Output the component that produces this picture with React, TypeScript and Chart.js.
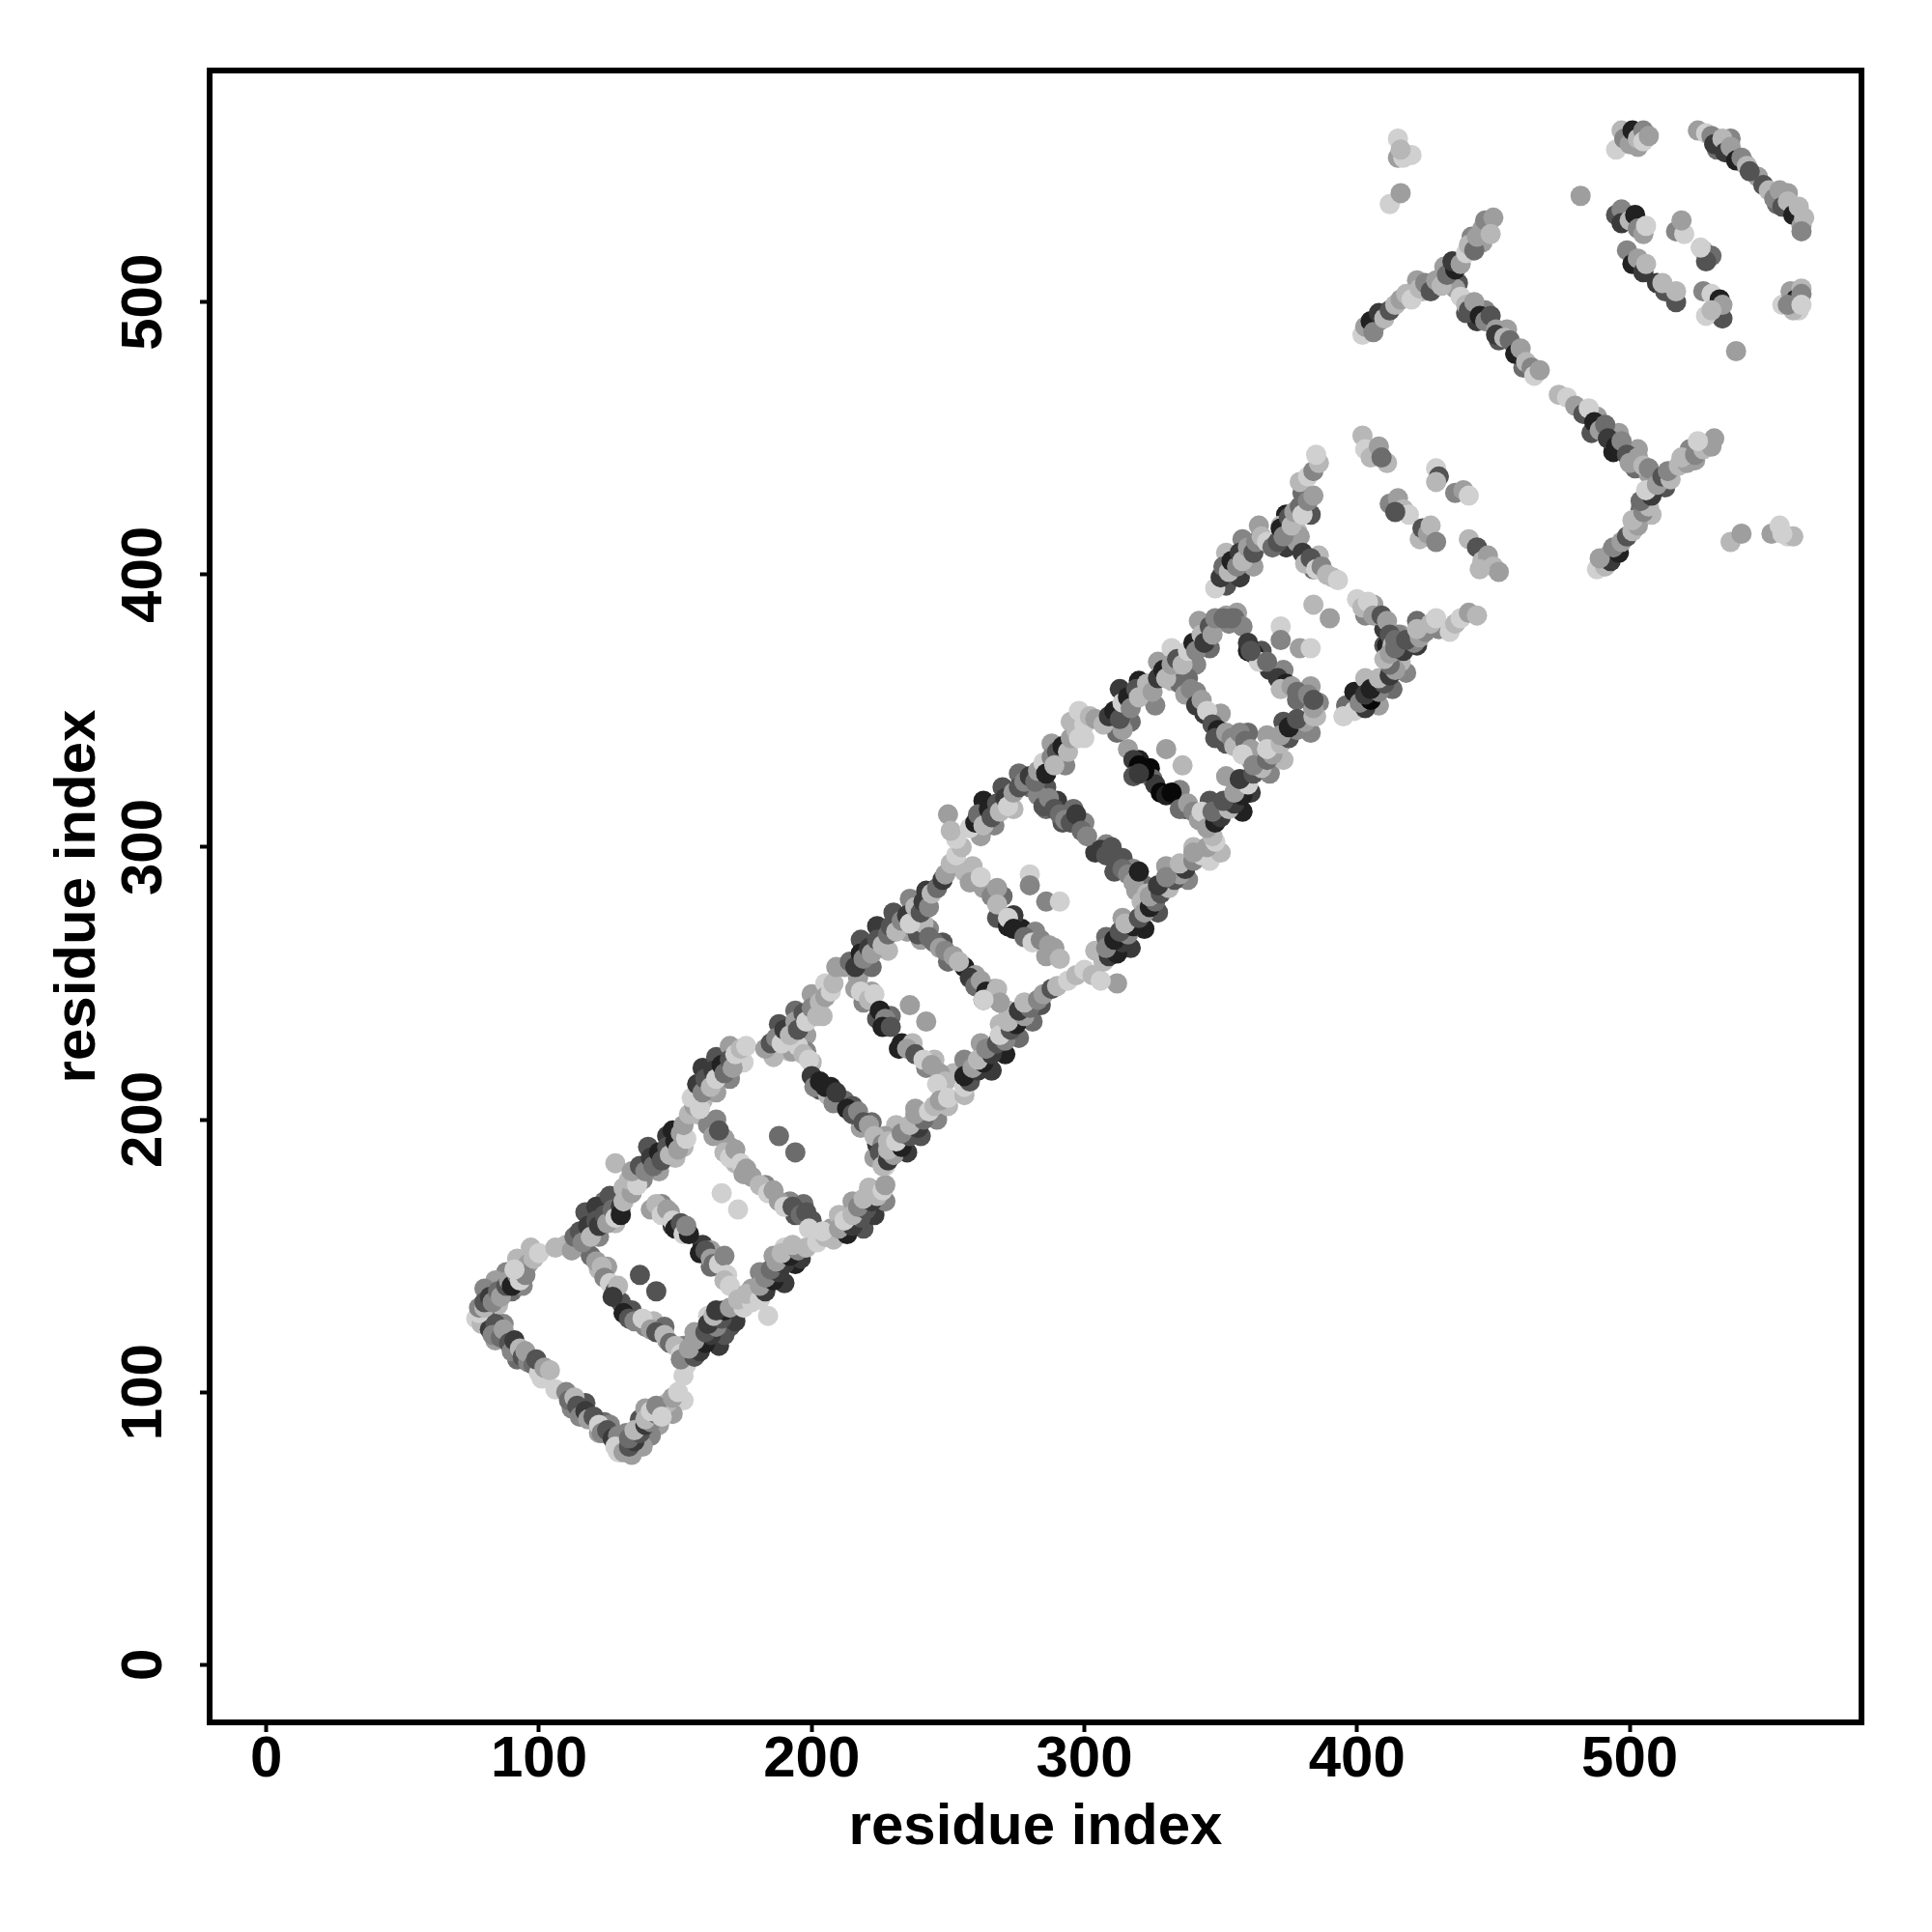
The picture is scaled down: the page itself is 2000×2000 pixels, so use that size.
import React, { useEffect, useRef } from "react";
import { Chart, registerables } from "chart.js";

Chart.register(...registerables);

const AXIS_TITLE = "residue index";
const TICK_VALUES = [0, 100, 200, 300, 400, 500];

// Each row: residue i, residue j, contact level in tenths of grey (0 black ... 8 light)
const upperBand: number[][] = [
  [78,129,8],[78,131,5],[80,131,7],[80,133,3],[82,135,2],[83,133,5],[85,137,4],[86,135,6],[88,139,3],[89,141,6],[90,139,1],[92,143,5],[93,141,8],[94,145,7],[96,147,6],[95,143,5],[98,149,7],[91,145,8],[100,151,8],
  [106,153,7],[110,154,7],[112,152,6],[113,157,4],[115,159,3],[116,155,5],[118,161,2],[119,157,7],[121,163,3],[122,161,2],[124,165,3],[125,162,6],[127,167,4],[128,164,8],[130,168,2],[130,165,1],[131,170,7],
  [131,175,7],[134,173,6],[133,178,7],[136,176,8],[128,184,7],[134,181,6],
  [137,183,3],[139,181,5],[141,186,2],[142,183,4],[144,188,1],[145,185,3],[147,190,3],[148,187,7],[150,192,1],[151,189,6],[152,195,6],[154,193,8],[153,198,6],
  [155,202,7],[157,205,6],[156,208,8],[159,204,8],
  [158,213,2],[160,210,5],[161,215,3],[163,212,7],[164,218,2],[165,215,8],[167,220,1],[168,217,4],[170,222,3],[171,219,6],[172,224,8],[174,226,7],[176,227,8],
  [183,226,6],[185,228,3],[187,230,5],[189,228,8],[190,233,2],[192,231,7],[194,236,6],[195,233,3],[197,239,3],[198,236,8],[200,241,5],[202,238,7],[203,243,7],[205,245,6],[207,247,8],[208,250,7],[209,256,6],[212,256,6],
  [214,258,4],[216,256,2],[218,261,1],[219,259,5],[221,263,2],[222,261,6],[224,266,3],[226,264,7],[228,268,4],[229,271,3],[231,269,7],[233,273,5],[235,275,2],[236,272,8],[238,278,7],[240,276,3],[241,280,2],[243,278,5],[244,283,7],[246,285,4],
  [248,288,2],[249,290,6],[251,294,7],[253,297,8],[255,300,7],[253,303,8],[250,312,6],[251,306,7],
  [258,307,8],[260,309,1],[261,312,4],[263,308,7],[265,314,1],[266,311,3],[268,316,3],[269,313,7],[271,318,2],[272,315,8],[274,320,6],[276,322,3],[278,324,5],[280,326,2],
  [282,324,4],[283,328,6],[285,331,8],[286,327,1],[288,333,5],[290,335,3],[289,330,7],[292,337,1],[294,335,7],[295,340,6],[297,343,7],[298,340,8],[300,345,8],[302,348,7],[304,347,6],
  [307,345,7],[309,348,2],[311,350,1],[313,347,3],[314,353,8],[316,355,1],[317,351,5],[319,358,3],[320,355,7],[323,360,7],[325,357,6],[327,362,2],[329,365,1],[330,362,7],[332,367,6],[334,369,3],[336,367,7],
  [338,372,8],[340,375,1],[341,372,5],[343,378,7],[344,375,2],[346,381,3],[347,378,6],[348,384,5],[351,384,4],[354,384,4],[348,395,8],
  [350,399,2],[351,403,4],[353,401,7],[354,405,1],[356,403,5],[357,408,2],[358,405,7],[360,410,6],[362,408,3],[363,412,5],[365,414,7],[367,412,8],
  [369,410,4],[371,412,3],[372,417,1],[373,414,5],[375,421,3],[376,418,7],[377,423,6],[379,425,4],[380,422,8],[382,427,5],[384,429,6],[382,436,8],[384,438,5],[386,441,7],[385,444,8],
];

const lowerBand: number[][] = [
  [129,78,8],[131,78,6],[133,80,3],[135,82,2],[133,83,4],[137,85,3],[135,86,7],[139,88,2],[141,89,5],[139,90,7],[143,92,4],[141,93,8],[145,94,6],[147,96,7],[143,95,5],[149,98,6],[145,91,8],[151,100,8],
  [153,106,8],[154,110,8],[152,112,5],[157,113,3],[159,115,2],[155,116,6],[161,118,1],[157,119,6],[163,121,2],[161,122,3],[165,124,5],[162,125,2],[167,127,3],[164,128,7],[168,130,1],[165,130,2],[170,131,6],
  [175,131,8],[173,134,7],[178,133,8],[176,136,7],[184,128,8],[181,134,8],
  [183,137,2],[181,139,6],[186,141,1],[183,142,5],[188,144,2],[185,145,4],[190,147,2],[187,148,6],[192,150,1],[189,151,7],[195,152,5],[193,154,7],[198,153,7],
  [202,155,8],[205,157,7],[208,156,7],[204,159,8],
  [213,158,1],[210,160,6],[215,161,2],[212,163,8],[218,164,3],[215,165,7],[220,167,3],[217,168,5],[222,170,2],[219,171,7],[224,172,7],[226,174,8],[227,176,6],
  [226,183,7],[228,185,2],[230,187,6],[228,189,7],[233,190,1],[231,192,8],[236,194,3],[233,195,5],[239,197,2],[236,198,7],[241,200,4],[238,202,6],[243,203,8],[245,205,7],[247,207,6],[250,208,8],[256,209,7],[256,212,8],
  [258,214,3],[256,216,1],[261,218,2],[259,219,6],[263,221,1],[261,222,7],[266,224,2],[264,226,5],[268,228,3],[271,229,5],[269,231,8],[273,233,3],[275,235,1],[272,236,7],[278,238,6],[276,240,2],[280,241,4],[278,243,7],[283,244,5],[285,246,6],
  [288,248,3],[290,249,7],[294,251,8],[297,253,7],[300,255,8],[303,253,7],[312,250,6],[306,251,8],
  [307,258,7],[309,260,2],[312,261,1],[308,263,5],[314,265,2],[311,266,1],[316,268,5],[313,269,3],[318,271,1],[315,272,7],[320,274,3],[322,276,6],[324,278,1],[326,280,4],
  [324,282,6],[328,283,3],[331,285,7],[327,286,2],[333,288,3],[335,290,6],[330,289,5],[337,292,2],[335,294,7],[340,295,5],[343,297,8],[340,298,6],[345,300,6],[348,302,8],[347,304,7],
  [345,307,6],[348,309,1],[350,311,2],[347,313,4],[353,314,7],[355,316,2],[351,317,3],[358,319,1],[355,320,6],[360,323,8],[357,325,2],[362,327,3],[365,329,7],[362,330,5],[367,332,4],[369,334,6],[367,336,8],
  [372,338,7],[375,340,3],[372,341,6],[378,343,5],[375,344,1],[381,346,6],[378,347,3],[384,348,7],[384,351,6],[384,354,3],[395,348,8],
  [399,350,8],[403,351,2],[401,353,5],[405,354,0],[403,356,2],[408,357,5],[405,358,1],[410,360,3],[408,362,7],[412,363,2],[414,365,6],[412,367,4],
  [410,369,7],[412,371,6],[417,372,2],[414,373,4],[421,375,5],[418,376,3],[423,377,6],[425,379,5],[422,380,7],[427,382,7],[429,384,8],[436,382,7],[438,384,8],[441,386,6],[444,385,7],
];

const rungsLow: number[][] = [
  [77,127,8],[79,125,7],[80,129,4],[82,123,2],[84,125,3],[83,121,5],[86,120,4],[87,123,6],[89,118,3],[90,115,5],[91,119,2],[93,116,7],[94,113,3],[96,111,5],[95,115,6],[98,110,4],[100,107,8],[99,112,3],[101,105,8],[102,109,6],[104,108,7],
  [106,101,8],[110,100,5],[111,97,4],[113,98,7],[114,95,3],[115,91,5],[117,93,2],[118,90,6],[120,91,3],[122,88,8],[123,85,5],[125,86,3],[127,83,2],[129,84,5],[128,80,8],[130,78,7],[132,78,8],[134,77,6],
  [119,150,4],[121,148,6],[123,146,7],[124,142,5],[126,140,8],[128,137,3],[129,139,7],[127,135,2],[131,129,1],[133,127,3],[135,126,5],[138,127,8],[141,123,6],[143,122,3],[146,121,7],[148,118,4],[150,117,7],[152,114,8],
  [137,143,3],[143,137,3],
  [141,167,6],[143,169,7],[145,165,8],[147,167,6],[149,163,8],[150,160,1],[152,162,3],[153,158,8],[155,158,1],[154,161,5],[159,151,1],[161,152,3],[163,149,6],[164,147,4],[166,147,8],[168,150,5],[169,143,8],[168,141,7],[170,139,8],
  [158,202,7],[162,198,5],[164,194,6],[166,196,3],[168,188,7],[170,186,8],[172,189,6],[174,184,8],[176,182,6],[175,180,6],[181,176,7],[184,173,8],[186,174,6],[188,170,6],[190,168,8],[193,168,3],[196,165,4],[198,166,3],[200,163,3],[199,160,8],
  [167,173,8],[173,167,8],[188,194,4],[194,188,4],
  [193,225,6],[195,227,8],[197,224,7],[199,222,8],[200,216,2],[201,212,5],[203,214,1],[206,209,7],[205,212,1],[208,206,5],[209,210,2],[213,204,1],[215,202,3],[217,203,5],[219,199,3],[221,198,6],[223,194,7],[226,191,5],[225,188,3],[228,186,6],[227,183,8],[228,192,7],
  [216,248,6],[218,247,8],[221,244,7],[223,246,8],[225,240,1],[227,237,5],[226,234,1],[229,234,3],[232,226,1],[235,226,6],[238,224,3],[241,222,8],[244,220,6],[247,217,6],[249,214,7],[246,213,8],
  [236,242,6],[242,236,6],
  [237,271,5],[239,268,3],[241,272,7],[243,267,4],[245,265,4],[247,263,6],[249,262,5],[252,260,6],[254,258,7],[258,252,2],[260,249,4],[262,251,6],[264,247,1],[266,245,5],[268,248,7],[269,243,6],[263,244,8],
];

const rungsHigh: number[][] = [
  [256,291,7],[258,287,6],[262,289,8],[266,282,5],[268,285,6],[268,279,7],[272,271,1],[274,275,2],[272,274,8],[274,270,1],[278,267,4],[281,265,8],[284,266,5],[287,264,6],[289,263,6],[291,259,7],
  [280,290,8],[280,286,5],[286,280,5],[291,280,8],
  [280,322,4],[283,319,5],[285,315,3],[287,318,5],[289,314,3],[291,312,4],[293,310,5],[295,309,3],[297,312,2],[299,306,4],[301,304,5],[306,299,2],[308,297,3],[310,300,3],[312,295,3],[314,292,4],[316,290,5],[318,287,6],[320,291,1],[323,283,7],[321,280,7],
  [310,346,7],[312,342,4],[314,343,6],[316,336,6],[318,332,2],[320,330,0],[322,328,0],[318,326,3],[320,327,2],[328,320,0],[330,319,1],[332,320,0],[335,314,4],[338,316,6],[340,313,5],[342,310,6],[343,313,8],
  [330,336,6],[336,330,7],
  [335,360,4],[337,356,6],[339,358,5],[341,352,2],[343,354,6],[345,350,8],[347,345,3],[349,343,1],[348,340,3],[352,342,6],[354,340,5],[355,337,7],[357,342,5],[359,339,4],[361,336,6],[358,334,8],
  [352,385,6],[355,384,4],[358,381,5],[360,375,2],[362,371,1],[364,368,8],[361,372,3],[367,368,4],[371,362,2],[374,360,1],[372,358,7],[376,359,6],[378,357,4],[382,356,5],[384,351,3],[386,353,5],[385,348,7],
  [372,381,8],[372,376,5],[379,373,6],[383,373,8],[384,389,7],[390,384,6],
  [372,418,7],[374,415,4],[376,414,5],[378,412,6],[380,408,2],[381,404,7],[383,406,3],[385,402,8],[387,403,5],[389,400,7],[391,399,7],[393,398,8],[400,391,8],[402,388,7],[404,390,8],[406,385,6],[409,385,3],[411,383,6],[412,378,3],[413,374,7],[414,376,4],[416,368,7],
  [402,451,7],[403,446,8],[405,443,7],[408,447,6],[411,441,7],[409,443,4],
  [412,426,5],[415,428,6],[417,424,7],[419,422,8],[414,423,3],[423,413,7],[424,417,3],[426,415,6],[427,418,7],[429,412,5],
  [429,439,8],[430,436,3],[429,434,7],[436,430,5],[439,431,6],[441,429,8],
  [441,413,7],[444,410,3],[446,405,7],[448,407,6],[450,403,7],[452,401,6],[445,402,7],
];

const hairpinArm: number[][] = [
  [436,505,6],[438,502,8],[440,499,7],[441,497,3],[443,500,6],[445,495,1],[447,493,5],[449,495,3],[451,490,6],[451,488,2],[454,487,7],[456,486,4],[458,481,1],[460,483,6],[462,478,7],[464,476,5],[465,473,8],[467,475,6],
  [474,466,7],[477,465,8],[480,462,6],[483,459,3],[485,461,8],[487,456,1],[489,453,6],[491,455,4],[492,450,2],[495,447,1],[497,449,5],[499,444,3],[500,441,6],[503,443,6],[505,440,7],[507,439,5],
  [402,488,8],[403,491,6],[405,493,1],[406,489,5],[408,496,2],[410,494,7],[412,497,3],[414,499,7],[416,501,6],[418,503,7],[420,501,8],[423,505,7],[425,507,5],[427,504,3],[429,508,6],[431,506,7],[433,510,4],[436,512,1],[435,515,2],[438,514,6],[440,518,8],[441,521,7],[443,519,4],[444,524,6],[446,527,6],[447,530,5],[450,531,6],[449,525,7],
  [488,402,8],[491,403,7],[493,405,2],[489,406,6],[496,408,1],[494,410,5],[497,412,6],[499,414,3],[501,416,7],[503,418,6],[501,420,7],[505,423,5],[507,425,7],[504,427,4],[508,429,2],[506,431,8],[510,433,6],[512,436,3],[515,435,7],[514,438,5],[518,440,7],[521,441,6],[519,443,7],[524,444,5],[527,446,7],[530,447,6],[531,450,6],[525,449,8],
];

const terminalCluster: number[][] = [
  [495,556,8],[497,563,7],[498,560,5],[500,558,6],[501,563,1],[503,560,7],[505,563,5],[505,559,8],[507,561,6],
  [525,563,6],[528,562,8],[530,561,5],[531,558,2],[534,560,7],[535,555,2],[537,557,6],[539,552,1],[541,553,5],[543,550,7],[544,548,3],
  [549,543,3],[551,541,7],[553,538,5],[555,541,6],[556,535,3],[558,537,7],[560,532,1],[562,535,7],[563,528,6],[564,531,7],[563,526,5],
  [495,532,3],[497,534,5],[497,529,2],[500,530,7],[502,532,1],[503,527,5],[505,525,6],[506,528,8],
  [499,519,5],[501,514,1],[503,516,6],[505,511,2],[506,514,7],
  [510,507,2],[513,504,3],[512,507,7],[517,500,3],[517,504,7],
  [517,526,5],[520,525,8],[519,530,6],[527,519,7],[530,517,4],[528,515,3],[526,520,8],
  [527,504,5],[530,503,8],[532,498,3],[533,501,1],[534,494,3],[534,499,6],[528,495,8],[530,497,7],
  [539,482,6],[482,539,6],
  [556,499,8],[559,504,6],[561,501,1],[563,505,7],[563,503,5],[562,497,8],[560,497,7],[558,499,5],[563,499,8],
  [537,412,7],[541,415,6],[552,415,6],[555,418,8],[558,414,8],[560,414,7],[556,415,8],
  [412,536,8],[416,540,6],[415,553,6],[415,560,8],[417,553,8],[420,554,8],[416,556,7],
];

// Contacts on the outer flanks of the bands
const upperFlank: number[][] = [
  [81,128,6],[85,132,7],[88,144,5],[90,137,4],[84,141,6],[94,139,5],[97,153,7],[80,138,5],[92,149,7],
  [113,153,5],[117,153,6],[117,166,3],[122,157,5],[124,170,4],[128,162,7],[121,168,2],[126,172,3],
  [138,178,5],[140,190,3],[144,181,6],[147,194,2],[150,186,7],[149,196,1],[153,190,7],
  [160,207,7],[160,219,2],[165,210,6],[165,223,3],[170,215,5],[170,227,6],[175,221,8],
  [186,223,7],[188,235,3],[192,225,7],[194,240,4],[198,231,6],[200,246,6],[204,238,7],[205,250,8],
  [217,252,6],[218,266,3],[222,256,4],[224,271,2],[228,262,7],[230,276,3],[235,269,6],[236,281,5],[240,272,8],[242,284,2],
  [262,304,6],[263,317,1],[267,308,5],[270,322,3],[274,314,7],[276,327,4],
  [286,322,3],[288,338,6],[293,330,5],[295,346,7],[300,340,8],[298,350,8],
  [311,345,6],[313,358,2],[317,346,4],[320,361,1],[326,352,5],[327,368,6],[332,361,7],[332,373,8],
  [341,367,5],[342,383,6],[346,373,4],
  [352,396,3],[352,408,7],[357,399,2],[358,413,5],[362,403,6],[364,418,6],
  [374,410,2],[374,422,1],[378,416,7],[380,430,4],[383,422,3],[379,434,7],
];

const lowerFlank: number[][] = [
  [128,81,7],[132,85,5],[144,88,6],[137,90,3],[141,84,5],[139,94,6],[153,97,8],[138,80,6],[149,92,6],
  [153,113,6],[153,117,5],[166,117,2],[157,122,6],[170,124,3],[162,128,8],[168,121,3],[172,126,2],
  [178,138,6],[190,140,2],[181,144,5],[194,147,1],[186,150,6],[196,149,2],[190,153,8],
  [207,160,6],[219,160,3],[210,165,7],[223,165,2],[215,170,6],[227,170,5],[221,175,7],
  [223,186,6],[235,188,2],[225,192,8],[240,194,3],[231,198,7],[246,200,5],[238,204,6],[250,205,7],
  [252,217,7],[266,218,2],[256,222,5],[271,224,1],[262,228,6],[276,230,4],[269,235,7],[281,236,4],[272,240,7],[284,242,3],
  [304,262,7],[317,263,2],[308,267,4],[322,270,1],[314,274,6],[327,276,3],
  [322,286,4],[338,288,5],[330,293,6],[346,295,8],[340,300,7],[350,298,7],
  [345,311,5],[358,313,1],[346,317,3],[361,320,2],[352,326,6],[368,327,5],[361,332,6],[373,332,7],
  [367,341,6],[383,342,5],[373,346,3],
  [396,352,4],[408,352,6],[399,357,1],[413,358,4],[403,362,7],[418,364,5],
  [410,374,3],[422,374,2],[416,378,6],[430,380,5],[422,383,4],[434,379,8],
];

const rungFlank: number[][] = [
  [84,119,6],[87,125,5],[92,112,4],[100,110,6],[112,94,5],[117,96,3],[122,85,6],[124,89,4],[126,88,5],
  [122,145,7],[125,146,6],[130,133,3],[134,130,3],[139,124,5],[142,126,7],[146,124,4],[147,119,6],
  [145,169,5],[148,166,6],[149,161,2],[153,161,4],[160,154,2],[163,152,6],[163,146,4],[167,149,6],
  [165,200,5],[168,193,6],[170,190,6],[172,184,7],[178,179,6],[183,176,5],[192,170,5],[194,165,3],[197,169,4],
  [198,225,5],[200,221,7],[203,211,3],[207,212,1],[212,207,4],[215,205,3],[218,197,6],[222,199,4],[224,191,2],[227,194,6],
  [219,243,5],[222,247,6],[224,237,3],[229,238,4],[233,228,1],[237,228,7],[242,219,5],[245,222,7],
  [240,266,6],[243,270,5],[248,265,3],[250,258,4],[256,256,1],[260,253,6],[263,244,3],[267,248,6],
  [259,293,7],[263,285,6],[268,274,3],[270,282,4],[277,270,1],[282,269,5],[286,260,6],
  [284,322,3],[286,314,4],[290,317,2],[292,309,3],[296,314,4],[300,309,5],[304,298,2],[308,301,5],[311,291,3],[314,296,3],[318,292,5],[319,284,6],
  [313,346,6],[320,332,1],[324,329,0],[325,325,4],[326,323,2],[335,321,5],[337,314,3],[344,310,7],
  [338,362,4],[341,357,5],[344,349,2],[350,349,6],[352,338,3],[360,342,4],[362,334,5],
  [353,382,5],[356,386,6],[360,372,1],[365,372,3],[368,365,2],[373,365,5],[378,354,4],[383,359,6],
  [375,411,2],[379,414,6],[384,402,4],[386,407,7],[403,385,5],[406,389,6],[410,380,2],[415,378,5],[411,374,1],
  [444,493,2],[447,497,5],[452,486,3],[455,490,6],[461,476,4],[486,452,3],[488,458,6],[494,445,1],[496,452,6],[502,439,4],[503,446,6],[440,496,3],
  [406,492,4],[408,493,5],[422,508,6],[424,504,7],[432,513,6],[437,507,3],[442,524,5],[446,522,6],
  [492,406,2],[493,408,6],[508,422,7],[504,424,4],[513,432,3],[507,437,6],[524,442,6],[522,446,5],
  [537,560,5],[542,551,3],[547,546,6],[554,536,4],[558,540,6],[532,556,4],[500,560,3],[503,557,6],
];

const allContacts = [...upperFlank, ...lowerFlank, ...rungFlank, ...rungsLow, ...rungsHigh, ...upperBand, ...lowerBand, ...hairpinArm, ...terminalCluster];

const FRAME = { left: 217, right: 1927, top: 73, bottom: 1783 };
const FONT = { family: "'Liberation Sans', Arial, sans-serif", size: 60, weight: "bold" as const };

const shade = (level: number) => {
  const v = Math.round(level * 0.098 * 255) + 8;
  return `rgb(${v},${v},${v})`;
};

const framePlugin = {
  id: "frame",
  afterDatasetsDraw(chart: any) {
    const { ctx, chartArea: a } = chart;
    ctx.save();
    ctx.strokeStyle = "#000";
    ctx.lineWidth = 6;
    ctx.strokeRect(a.left, a.top, a.right - a.left, a.bottom - a.top);
    ctx.restore();
  },
};

export default function App() {
  const ref = useRef<HTMLCanvasElement>(null);
  useEffect(() => {
    const axis = (isX: boolean): any => ({
      type: "linear",
      min: isX ? -20.8 : -21.2,
      max: 585,
      afterBuildTicks: (s: any) => {
        s.ticks = TICK_VALUES.map((value) => ({ value }));
      },
      afterFit: (s: any) => {
        if (isX) s.height = 2000 - FRAME.bottom;
        else s.width = FRAME.left;
      },
      border: { display: false },
      grid: { drawOnChartArea: false, drawTicks: true, tickLength: 10, tickWidth: 4, tickColor: "#000" },
      ticks: isX
        ? { color: "#000", font: FONT, padding: -7, maxRotation: 0, autoSkip: false }
        : { color: "#000", font: FONT, padding: 6, minRotation: 90, maxRotation: 90, crossAlign: "center", autoSkip: false },
      title: {
        display: true,
        text: AXIS_TITLE,
        color: "#000",
        font: FONT,
        padding: isX ? { top: 0, bottom: 72 } : { top: 45, bottom: 0 },
      },
    });
    const chart = new Chart(ref.current!, {
      type: "scatter",
      data: {
        datasets: [
          {
            data: allContacts.map((r) => ({ x: r[0], y: r[1] })),
            backgroundColor: allContacts.map((r) => shade(r[2])),
            borderWidth: 0,
            pointRadius: 10.5,
            clip: false,
          } as any,
        ],
      },
      options: {
        animation: false,
        responsive: false,
        devicePixelRatio: 1,
        layout: { padding: { left: 0, top: FRAME.top, right: 2000 - FRAME.right, bottom: 0 } },
        plugins: { legend: { display: false }, tooltip: { enabled: false } },
        scales: { x: axis(true), y: axis(false) },
      },
      plugins: [framePlugin],
    });
    return () => chart.destroy();
  }, []);
  return (
    <div style={{ position: "fixed", left: 0, top: 0, width: 2000, height: 2000, background: "#fff" }}>
      <canvas ref={ref} width={2000} height={2000} style={{ display: "block", width: 2000, height: 2000 }} />
    </div>
  );
}
